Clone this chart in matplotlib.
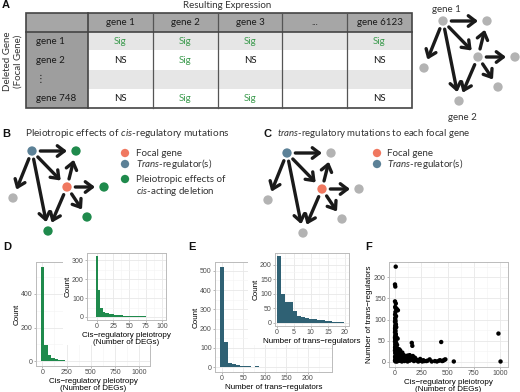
import numpy as np
import matplotlib.pyplot as plt
from matplotlib.patches import Rectangle

plt.rcParams['font.family'] = ['Liberation Sans', 'DejaVu Sans']
plt.rcParams['mathtext.fontset'] = 'custom'
plt.rcParams['mathtext.it'] = 'Lato:italic'
plt.rcParams['mathtext.rm'] = 'Lato'

W, H = 520, 392
TXT = '#333333'
SIG_GREEN = '#3c9b4e'
RED = '#f07860'
BLUE = '#5c8197'
GREEN = '#1f8a4c'
GRAY = '#b3b3b3'

# ---------------- data ----------------
# panel A table
col_labels = ['gene 1', 'gene 2', 'gene 3', '...', 'gene 6123']
row_labels = ['gene 1', 'gene 2', '\u22ee', 'gene 748']
calls = [['Sig', 'Sig', 'Sig', '', 'Sig'],
         ['NS', 'Sig', 'NS', '', 'NS'],
         ['', '', '', '', ''],
         ['NS', 'Sig', 'Sig', '', 'NS']]

# network edges (same toy network in A, B, C)
edges = [(0, 1), (0, 2), (0, 4), (0, 6), (2, 1), (2, 3), (2, 5), (2, 6)]

# D: cis-regulatory pleiotropy histograms
d_main_width = 36
d_main_counts = [560, 95, 35, 22, 12, 8, 5, 4, 3, 3, 2, 2, 1, 2, 1, 1, 1, 0, 1, 0,
                 0, 0, 0, 0, 0, 0, 0, 1, 1]
d_in_width = 3.5
d_in_counts = [320, 145, 45, 25, 20, 20, 15, 14, 12, 10, 9, 8, 7, 6, 6, 5, 5, 4, 4,
               3, 3, 3, 2, 2, 2, 2, 2, 2, 1]

# E: number of trans-regulators histograms
e_main_width = 9
e_main_start = 1
e_main_counts = [520, 128, 22, 18, 10, 5, 4, 3, 2, 3, 2, 1, 2, 1, 1, 1, 0, 1, 1, 0,
                 1, 0, 0, 0, 1, 1]
e_in_width = 1.15
e_in_start = 0.8
e_in_counts = [230, 100, 70, 70, 40, 22, 20, 16, 14, 12, 10, 8, 7, 5, 4, 3, 2]

# F: (cis pleiotropy, number of trans-regulators) per focal gene
f_points = [(7, 225), (0, 183), (3, 178), (0, 143), (8, 138), (2, 130), (6, 127),
            (18, 125), (28, 122), (4, 118), (1, 112), (10, 108), (3, 100), (0, 95),
            (6, 90), (2, 85), (12, 82), (1, 78), (4, 74), (0, 70), (8, 66), (3, 62),
            (14, 58), (1, 55), (5, 52), (0, 48), (10, 45), (2, 42), (20, 40), (6, 37),
            (1, 34), (4, 31), (15, 29), (0, 27), (30, 25), (8, 23), (2, 21), (45, 20),
            (12, 18), (60, 17), (5, 15), (25, 14), (80, 13), (1, 12), (40, 11),
            (100, 10), (7, 9), (55, 8), (130, 8), (20, 7), (3, 6), (75, 6), (160, 5),
            (10, 5), (35, 4), (110, 4), (200, 4), (0, 3), (50, 3), (140, 3), (250, 3),
            (15, 2), (90, 2), (180, 2), (300, 2), (5, 1), (65, 1), (120, 1), (220, 1),
            (350, 1), (400, 1), (450, 2), (470, 5), (480, 6), (420, 3), (330, 6),
            (270, 4), (240, 7), (190, 10), (150, 12), (170, 14), (140, 16), (120, 15),
            (160, 45), (165, 38), (440, 47), (985, 67), (1005, 1), (560, 1), (25, 55),
            (18, 33), (40, 30), (35, 18), (70, 22), (85, 16), (50, 27), (60, 12),
            (95, 9), (110, 7), (210, 5), (230, 2), (260, 1), (280, 2), (310, 3),
            (380, 2), (430, 4), (460, 3), (2, 104), (5, 96), (9, 88), (1, 80), (3, 72),
            (6, 64), (0, 58), (4, 50), (11, 44), (2, 36), (7, 28), (22, 26), (16, 20),
            (33, 16), (12, 12), (27, 8), (48, 6), (9, 4), (38, 3), (20, 1)]
cis_x = [p[0] for p in f_points]
trans_y = [p[1] for p in f_points]

# ---------------- figure ----------------
fig = plt.figure(figsize=(W / 100, H / 100), dpi=100)
ax0 = fig.add_axes([0, 0, 1, 1], zorder=0)
ax0.set_xlim(0, W)
ax0.set_ylim(H, 0)
ax0.axis('off')

LATO = ['Lato', 'DejaVu Sans']


def label(x, y, s):
    ax0.text(x, y, s, fontsize=8, fontweight='bold', ha='left', va='center',
             family=['Liberation Sans'], color='#111111')


def note(x, y, s, ha='left', size=7, **kw):
    ax0.text(x, y, s, fontsize=size, ha=ha, va='center', family=LATO,
             color=kw.pop('color', TXT), **kw)


# ---- panel A: table ----
label(2, 5, 'A')
note(227, 5, 'Resulting Expression', ha='center')
col_x = [88, 153, 218, 282, 347, 412]
row_y = [13, 32, 50, 70, 89, 108]
left = 26
ax0.add_patch(Rectangle((left, row_y[0]), col_x[-1] - left, row_y[1] - row_y[0],
                        facecolor='#a6a6a6', edgecolor='none'))
ax0.add_patch(Rectangle((left, row_y[1]), col_x[0] - left, row_y[-1] - row_y[1],
                        facecolor='#9e9e9e', edgecolor='none'))
for i in range(len(row_labels)):
    fc = '#e6e6e6' if i % 2 == 0 else 'white'
    ax0.add_patch(Rectangle((col_x[0], row_y[i + 1]), col_x[-1] - col_x[0],
                            row_y[i + 2] - row_y[i + 1], facecolor=fc, edgecolor='none'))
    note(36, (row_y[i + 1] + row_y[i + 2]) / 2, row_labels[i], color='#1a1a1a')
    for j, c in enumerate(calls[i]):
        if c:
            note((col_x[j] + col_x[j + 1]) / 2, (row_y[i + 1] + row_y[i + 2]) / 2, c,
                 ha='center', color=SIG_GREEN if c == 'Sig' else '#1a1a1a')
for j, c in enumerate(col_labels):
    note((col_x[j] + col_x[j + 1]) / 2, (row_y[0] + row_y[1]) / 2, c, ha='center',
         color='#1a1a1a')
for x in col_x[1:-1]:
    ax0.plot([x, x], [row_y[0], row_y[-1]], color='#555555', lw=0.9)
ax0.plot([col_x[0], col_x[0]], [row_y[0], row_y[-1]], color='#444444', lw=1.2)
ax0.plot([left, col_x[-1]], [row_y[1], row_y[1]], color='#444444', lw=1.2)
ax0.add_patch(Rectangle((left, row_y[0]), col_x[-1] - left, row_y[-1] - row_y[0],
                        facecolor='none', edgecolor='#444444', lw=1.2))
note(8, 61, 'Deleted Gene', ha='center', rotation=90)
note(18, 61, '(Focal Gene)', ha='center', rotation=90)

# ---- networks ----
layout = [(0, 0), (44, 0), (35, 36), (72, 36), (-19, 47), (55, 66), (16, 80)]


def network(ox, oy, colors):
    pts = [(ox + dx, oy + dy) for dx, dy in layout]
    for a, b in edges:
        ax0.annotate('', xy=pts[b], xytext=pts[a],
                     arrowprops=dict(arrowstyle='->,head_length=0.5,head_width=0.38',
                                     lw=2.4, color='#1a1a1a', shrinkA=6, shrinkB=6.5))
    for (x, y), c in zip(pts, colors):
        ax0.scatter([x], [y], s=45, color=c, edgecolors='none', zorder=3)
    return pts


network(443, 21, [GRAY] * 7)
note(446, 9, 'gene 1', ha='center')
note(462, 117, 'gene 2', ha='center')

# ---- panel B ----
label(2, 134, 'B')
note(25, 134, r'Pleiotropic effects of $\mathit{cis}$-regulatory mutations', size=7.3)
network(32, 151, [BLUE, GREEN, RED, GREEN, GRAY, GREEN, GREEN])
leg_b = [(RED, 'Focal gene'), (BLUE, r'$\mathit{Trans}$-regulator(s)'),
         (GREEN, 'Pleiotropic effects of')]
for y, (c, s) in zip([153, 164, 179], leg_b):
    ax0.scatter([125], [y], s=36, color=c, edgecolors='none')
    note(136, y, s)
note(136, 191, r'$\mathit{cis}$-acting deletion')

# ---- panel C ----
label(263, 134, 'C')
note(277, 134, r'$\mathit{trans}$-regulatory mutations to each focal gene', size=6.9)
network(287, 153, [BLUE, GRAY, RED, GRAY, GRAY, GRAY, GRAY])
for y, (c, s) in zip([153, 164], leg_b[:2]):
    ax0.scatter([377], [y], s=36, color=c, edgecolors='none')
    note(387, y, s)

label(3, 247, 'D')
label(188, 247, 'E')
label(365, 247, 'F')


# ---------------- ggplot-like plots ----------------
def gg_axes(l, t, r, b, xlim, ylim, xt, yt, xm, ym, z):
    ax = fig.add_axes([l / W, 1 - b / H, (r - l) / W, (b - t) / H], zorder=z)
    ax.set_xlim(xlim)
    ax.set_ylim(ylim)
    ax.set_xticks(xt)
    ax.set_yticks(yt)
    ax.set_xticks(xm, minor=True)
    ax.set_yticks(ym, minor=True)
    ax.grid(True, which='major', color='#e8e8e8', lw=0.6)
    ax.grid(True, which='minor', color='#f4f4f4', lw=0.4)
    ax.set_axisbelow(True)
    for s in ax.spines.values():
        s.set_color('#bbbbbb')
        s.set_linewidth(0.7)
    ax.tick_params(which='major', length=1.5, width=0.5, color='#999999',
                   labelsize=5, labelcolor='#4d4d4d', pad=0.8)
    ax.tick_params(which='minor', length=0)
    return ax


def white_box(l, t, r, b):
    fig.add_artist(Rectangle((l / W, 1 - b / H), (r - l) / W, (b - t) / H,
                             transform=fig.transFigure, facecolor='white',
                             edgecolor='none', zorder=2))


LAB = dict(fontsize=5.8, linespacing=1.05)

# D main
ax = gg_axes(36, 262, 150, 366, (-65, 1110), (-28, 588), [0, 250, 500, 750, 1000],
             [0, 200, 400], [125, 375, 625, 875], [100, 300, 500], 1)
ax.bar(np.arange(len(d_main_counts)) * d_main_width, d_main_counts, width=d_main_width,
       color=GREEN, edgecolor='none')
ax.set_xlabel('Cis\u2212regulatory pleiotropy\n(Number of DEGs)', labelpad=1, **LAB)
ax.set_ylabel('Count', labelpad=0.5, **LAB)
white_box(63, 249, 170, 345)
ax = gg_axes(87, 253, 166, 320, (-15, 106), (-16, 338), [0, 25, 50, 75, 100],
             [0, 100, 200, 300], [12.5, 37.5, 62.5, 87.5], [50, 150, 250], 3)
ax.bar(np.arange(len(d_in_counts)) * d_in_width, d_in_counts, width=d_in_width,
       color=GREEN, edgecolor='none')
ax.set_xlabel('Cis\u2212regulatory pleiotropy\n(Number of DEGs)', labelpad=1, **LAB)
ax.set_ylabel('Count', labelpad=0.5, **LAB)

# E main
ax = gg_axes(215, 262, 332, 372, (-16, 256), (-26, 546), [0, 50, 100, 150, 200],
             [0, 100, 200, 300, 400, 500], [25, 75, 125, 175, 225],
             [50, 150, 250, 350, 450], 1)
ax.bar(e_main_start + np.arange(len(e_main_counts)) * e_main_width, e_main_counts,
       width=e_main_width, color='#2f6174', edgecolor='none')
ax.set_xlabel('Number of trans\u2212regulators', labelpad=1, **LAB)
ax.set_ylabel('Count', labelpad=0.5, **LAB)
white_box(248, 249, 352, 345)
ax = gg_axes(275, 253, 349, 326, (-0.5, 21.2), (-11.5, 241.5), [0, 5, 10, 15, 20],
             [0, 50, 100, 150, 200], [2.5, 7.5, 12.5, 17.5], [25, 75, 125, 175, 225], 3)
ax.bar(e_in_start + np.arange(len(e_in_counts)) * e_in_width, e_in_counts,
       width=e_in_width, color='#2f6174', edgecolor='none')
ax.set_xlabel('Number of trans\u2212regulators', labelpad=1, **LAB)
ax.set_ylabel('Count', labelpad=0.5, **LAB)

# F scatter
ax = gg_axes(389, 262, 508, 367, (-57, 1076), (-12, 236), [0, 250, 500, 750, 1000],
             [0, 50, 100, 150, 200], [125, 375, 625, 875], [25, 75, 125, 175, 225], 1)
ax.scatter(cis_x, trans_y, s=10, color='black', edgecolors='none')
ax.set_xlabel('Cis\u2212regulatory pleiotropy\n(Number of DEGs)', labelpad=1, **LAB)
ax.set_ylabel('Number of trans\u2212regulators', labelpad=1, **LAB)

fig.savefig('out.png', dpi=100)
